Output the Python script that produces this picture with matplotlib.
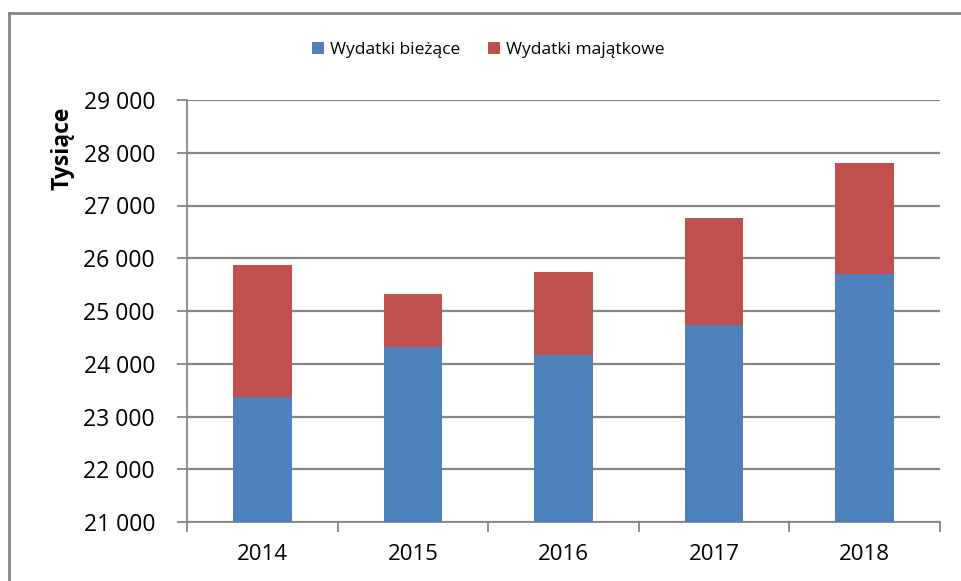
import numpy as np
import matplotlib.pyplot as plt
from matplotlib.lines import Line2D

years = ['2014', '2015', '2016', '2017', '2018']
biezace = [23370, 24320, 24160, 24730, 25710]
majatkowe_total = [25870, 25320, 25740, 26760, 27810]
majatkowe = [t - b for t, b in zip(majatkowe_total, biezace)]
y_ticks = [21000, 22000, 23000, 24000, 25000, 26000, 27000, 28000, 29000]

plt.rcParams['font.family'] = ['Open Sans', 'DejaVu Sans']

fig = plt.figure(figsize=(9.61, 5.81), dpi=100)
ax = fig.add_axes([187/961, 1 - 522/581, (940 - 187)/961, (522 - 100)/581])

x = np.arange(len(years))
w = 0.39
blue = '#4f81bd'
red = '#c0504d'
ax.bar(x, biezace, w, bottom=0, color=blue, label='Wydatki bieżące', zorder=3)
ax.bar(x, majatkowe, w, bottom=biezace, color=red, label='Wydatki majątkowe', zorder=3)

ax.set_ylim(21000, 29000)
ax.set_xlim(-0.5, len(years) - 0.5)
ax.set_yticks(y_ticks)
ax.set_yticklabels([f'{v:,}'.replace(',', ' ') for v in y_ticks], fontsize=16.5)
ax.set_xticks(x)
ax.set_xticklabels(years, fontsize=16)
ax.set_xticks(np.arange(len(years) + 1) - 0.5, minor=True)
ax.tick_params(axis='x', which='major', length=0, pad=16)
ax.tick_params(axis='x', which='minor', length=7, color='#868686', width=1.3)
ax.tick_params(axis='y', length=7, color='#868686', width=1.3, pad=16)

ax.grid(axis='y', color='#868686', linewidth=1.6, zorder=0)
for s in ['top', 'right']:
    ax.spines[s].set_visible(False)
for s in ['left', 'bottom']:
    ax.spines[s].set_color('#868686')
    ax.spines[s].set_linewidth(1.3)

ax.set_ylabel('Tysiące', fontsize=16.5, fontweight='bold')
ax.yaxis.set_label_coords(-0.149, 0.886)

fig.legend(loc='upper center', bbox_to_anchor=(0.508, 0.955), ncol=2, frameon=False,
           fontsize=12.5, handlelength=0.7, handleheight=0.7, columnspacing=1.6, handletextpad=0.35)

# outer chart border
fig.add_artist(Line2D([8.5/961, 1], [1 - 13/581, 1 - 13/581], color='#868686', linewidth=2))
fig.add_artist(Line2D([8.5/961, 8.5/961], [0, 1 - 13/581], color='#868686', linewidth=2))

fig.savefig('out.png', dpi=100)
